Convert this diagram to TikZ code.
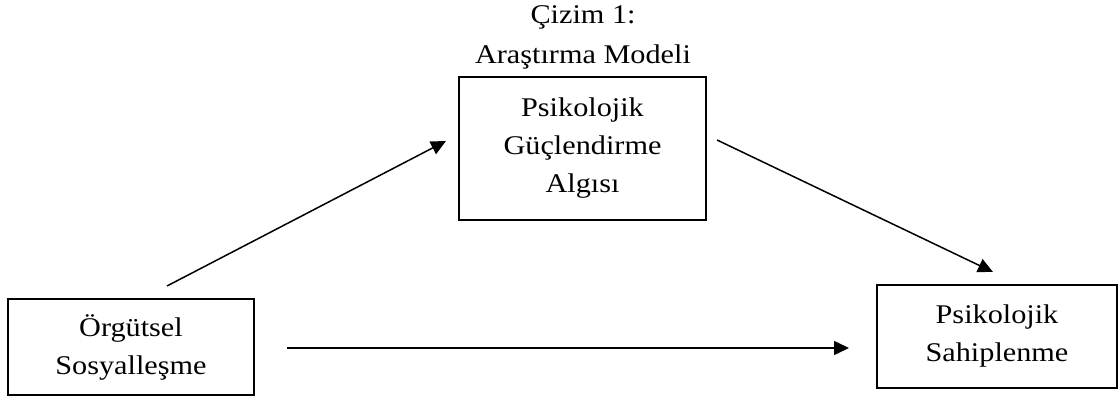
\documentclass[tikz,border=0pt]{standalone}
\usepackage{fontspec}
\setmainfont[FakeStretch=1.12]{Liberation Serif}
\usetikzlibrary{arrows.meta}
\begin{document}
\begin{tikzpicture}[x=1pt,y=-1pt,
  box/.style={draw,line width=1.6pt,inner sep=0pt,align=center,
    font=\fontsize{27}{38}\selectfont},
  link/.style={line width=1.5pt,-{Triangle[length=15pt,width=14pt]}},
  caption/.style={align=center,font=\fontsize{27}{40}\selectfont}]
\useasboundingbox (0,0) rectangle (1119,403);
% title
\node[caption] (title) at (583,37) {Çizim 1:\\Araştırma Modeli};
% boxes (corners given directly)
\node[box,minimum width=247pt,minimum height=143pt] (pga) at (582.5,148.5)
  {Psikolojik\\Güçlendirme\\Algısı};
\node[box,minimum width=246pt,minimum height=96pt] (os) at (131,347)
  {Örgütsel\\Sosyalleşme};
\node[box,minimum width=240pt,minimum height=103pt] (ps) at (997,336.5)
  {Psikolojik\\Sahiplenme};
% free ends of the connectors
\coordinate (a1s) at (167,286);
\coordinate (a1e) at (446,141);
\coordinate (a2s) at (717,140);
\coordinate (a2e) at (993,272);
\coordinate (a3s) at (287,348);
\coordinate (a3e) at (849,348);
\draw[link] (a1s) -- (a1e);
\draw[link] (a2s) -- (a2e);
\draw[link] (a3s) -- (a3e);
\end{tikzpicture}
\end{document}
